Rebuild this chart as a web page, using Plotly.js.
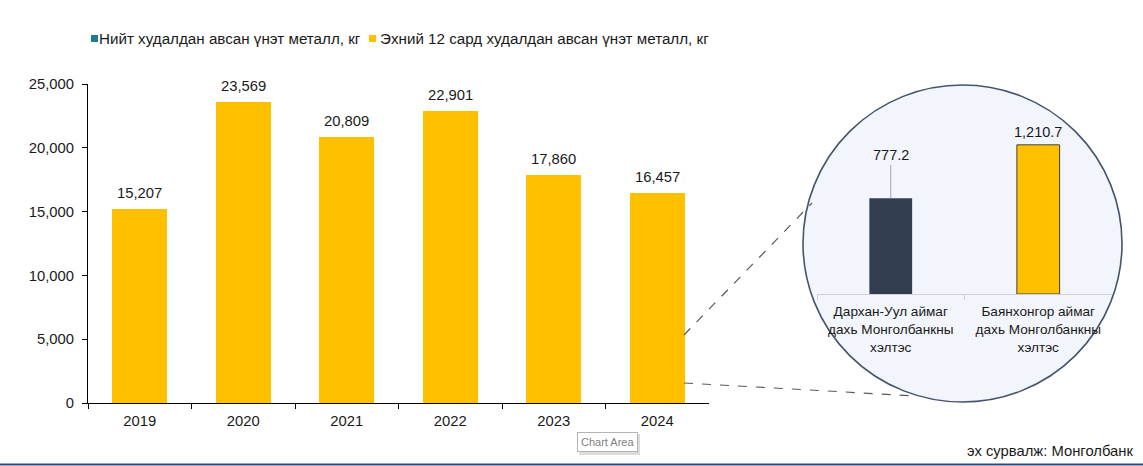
<!DOCTYPE html>
<html>
<head>
<meta charset="utf-8">
<script src="https://cdn.plot.ly/plotly-3.0.1.min.js"></script>
<style>
  html, body { margin: 0; padding: 0; background: #ffffff; }
  #chart { width: 1143px; height: 466px; }
</style>
</head>
<body>
<div id="chart"></div>
<script>
// ---- data ----
var years = ["2019", "2020", "2021", "2022", "2023", "2024"];
var yearValues = [15207, 23569, 20809, 22901, 17860, 16457];
var branches = [
  "Дархан-Уул аймаг<br>дахь Монголбанкны<br>хэлтэс",
  "Баянхонгор аймаг<br>дахь Монголбанкны<br>хэлтэс"
];
var branchValues = [777.2, 1210.7];
var seriesNames = [
  "Нийт худалдан авсан үнэт металл, кг",
  "Эхний 12 сард худалдан авсан үнэт металл, кг"
];
var yTicks = [0, 5000, 10000, 15000, 20000, 25000];
var sourceText = "эх сурвалж: Монголбанк";
var tooltipText = "Chart Area";

// ---- layout helpers (page pixels -> paper fractions) ----
var W = 1143, H = 466;
function X(p) { return p / W; }
function Y(p) { return 1 - p / H; }

var FONT = "Liberation Sans, Arial, sans-serif";
var TXT = "#1a1a1a";
var YELLOW = "#ffc000";
var DARK = "#333f50";
var TEAL = "#1b7f8b";
var FS = 14.8;

var traces = [
  {
    type: "bar",
    x: years,
    y: yearValues,
    xaxis: "x",
    yaxis: "y",
    width: 0.53,
    marker: { color: YELLOW },
    showlegend: false,
    hoverinfo: "x+y"
  },
  {
    type: "bar",
    x: branches,
    y: branchValues,
    xaxis: "x2",
    yaxis: "y2",
    width: 0.29,
    marker: {
      color: [DARK, YELLOW],
      line: { color: [DARK, "#404040"], width: [0, 1] }
    },
    showlegend: false,
    hoverinfo: "y"
  }
];

var annotations = [];
// main data labels (x given as category index)
years.forEach(function (yr, i) {
  annotations.push({
    x: i, y: yearValues[i], xref: "x", yref: "y",
    text: yearValues[i].toLocaleString("en-US"),
    showarrow: false, yanchor: "bottom", yshift: 6,
    font: { family: FONT, size: FS, color: TXT }
  });
});
// inset labels
annotations.push({
  x: 0, y: branchValues[0], xref: "x2", yref: "y2",
  text: branchValues[0].toLocaleString("en-US", { minimumFractionDigits: 1 }),
  showarrow: true, arrowhead: 0, arrowwidth: 1, arrowcolor: "#a6a6a6",
  ax: 0, ay: -43, standoff: 0,
  font: { family: FONT, size: 14.5, color: TXT }
});
annotations.push({
  x: 1, y: branchValues[1], xref: "x2", yref: "y2",
  text: branchValues[1].toLocaleString("en-US", { minimumFractionDigits: 1 }),
  showarrow: false, yanchor: "bottom", yshift: 3,
  font: { family: FONT, size: 14.5, color: TXT }
});
// manual legend texts
annotations.push({
  x: X(97), y: Y(38.5), xref: "paper", yref: "paper",
  xanchor: "left", yanchor: "middle", showarrow: false,
  text: seriesNames[0], font: { family: FONT, size: 15.2, color: TXT }
});
annotations.push({
  x: X(378), y: Y(38.5), xref: "paper", yref: "paper",
  xanchor: "left", yanchor: "middle", showarrow: false,
  text: seriesNames[1], font: { family: FONT, size: 15.2, color: TXT }
});
// source
annotations.push({
  x: X(1135), y: Y(451), xref: "paper", yref: "paper",
  xanchor: "right", yanchor: "middle", showarrow: false,
  text: sourceText, font: { family: FONT, size: FS, color: TXT }
});
// tooltip artifact
annotations.push({
  x: X(607), y: Y(442), xref: "paper", yref: "paper",
  xanchor: "center", yanchor: "middle", showarrow: false,
  text: tooltipText, bgcolor: "#ffffff", bordercolor: "#b4b4b4",
  borderwidth: 1, borderpad: 3,
  font: { family: FONT, size: 11, color: "#808080" }
});

var shapes = [
  // magnifier circle
  {
    type: "circle", xref: "paper", yref: "paper", layer: "below",
    x0: X(803), x1: X(1122), y0: Y(402), y1: Y(85),
    fillcolor: "#f2f5fb", line: { color: "#44546a", width: 1.6 }
  },
  // dashed connector lines
  {
    type: "line", xref: "paper", yref: "paper",
    x0: X(684), y0: Y(335), x1: X(812), y1: Y(203),
    line: { color: "#595959", width: 1.2, dash: "dash" }
  },
  {
    type: "line", xref: "paper", yref: "paper",
    x0: X(684), y0: Y(383), x1: X(917), y1: Y(396),
    line: { color: "#595959", width: 1.2, dash: "dash" }
  },
  // legend squares
  {
    type: "rect", xref: "paper", yref: "paper",
    x0: X(91), x1: X(98), y0: Y(42), y1: Y(35),
    fillcolor: TEAL, line: { width: 0 }
  },
  {
    type: "rect", xref: "paper", yref: "paper",
    x0: X(369), x1: X(376), y0: Y(42), y1: Y(35),
    fillcolor: YELLOW, line: { width: 0 }
  },
  // tooltip shadow
  {
    type: "rect", xref: "paper", yref: "paper", layer: "below",
    x0: X(579), x1: X(640), y0: Y(455), y1: Y(434),
    fillcolor: "#dcdcdc", line: { width: 0 }
  },
  // bottom rule
  {
    type: "line", xref: "paper", yref: "paper",
    x0: 0, x1: 1, y0: Y(464.5), y1: Y(464.5),
    line: { color: "#2f4b7c", width: 2 }
  }
];

var layout = {
  width: W, height: H,
  margin: { l: 0, r: 0, t: 0, b: 0, pad: 0 },
  paper_bgcolor: "#ffffff",
  plot_bgcolor: "rgba(0,0,0,0)",
  font: { family: FONT, size: FS, color: TXT },
  showlegend: false,
  bargap: 0,
  xaxis: {
    domain: [X(88), X(709)],
    type: "category",
    range: [-0.5, 5.5],
    showline: true, linecolor: "#000000", linewidth: 1,
    ticks: "outside", tickson: "boundaries", ticklen: 5, tickcolor: "#000000",
    ticklabelstandoff: 4,
    showgrid: false, zeroline: false, automargin: false,
    tickfont: { family: FONT, size: FS, color: TXT },
    fixedrange: true
  },
  yaxis: {
    domain: [Y(403), Y(84)],
    range: [0, 25000],
    tickvals: yTicks,
    tickformat: ",d",
    showline: true, linecolor: "#000000", linewidth: 1,
    ticks: "outside", ticklen: 5, tickcolor: "#000000",
    ticklabelstandoff: 5,
    showgrid: false, zeroline: false, automargin: false,
    tickfont: { family: FONT, size: FS, color: TXT },
    fixedrange: true
  },
  xaxis2: {
    domain: [X(817), X(1112)],
    anchor: "y2",
    type: "category",
    range: [-0.5, 1.5],
    showline: true, linecolor: "#d0d0d0", linewidth: 1,
    ticks: "outside", tickson: "boundaries", ticklen: 5, tickcolor: "#d0d0d0",
    ticklabelstandoff: 5,
    showgrid: false, zeroline: false, automargin: false,
    tickfont: { family: FONT, size: 13.6, color: TXT },
    fixedrange: true
  },
  yaxis2: {
    domain: [Y(294), Y(121.5)],
    anchor: "x2",
    range: [0, 1400],
    visible: false,
    fixedrange: true
  },
  annotations: annotations,
  shapes: shapes
};

Plotly.newPlot("chart", traces, layout, { displayModeBar: false, staticPlot: true });
</script>
</body>
</html>
